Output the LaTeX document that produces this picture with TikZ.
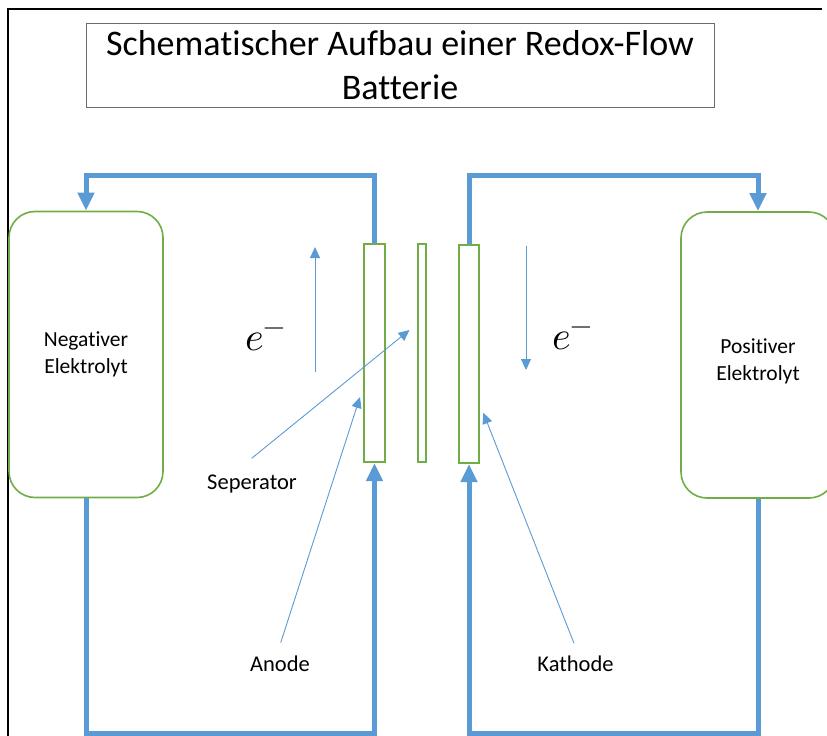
\documentclass[tikz,border=0pt]{standalone}
\usepackage{fontspec}
\setmainfont{Carlito}[Ligatures=NoCommon]
\usepackage{unicode-math}
\setmathfont{Latin Modern Math}
\usetikzlibrary{arrows.meta}
\definecolor{pipeblue}{HTML}{5B9BD5}
\definecolor{cellgreen}{HTML}{70AD47}
\definecolor{framegray}{HTML}{6B6B6B}
\begin{document}
\begin{tikzpicture}[x=1pt,y=-1pt,
  pipe/.style={draw=pipeblue, line width=5pt},
  pipetip/.style={-{Triangle[width=16pt,length=18pt]}},
  flow/.style={draw=pipeblue, line width=0.9pt, -{Triangle[width=10pt,length=11pt]}},
  tank/.style={draw=cellgreen, line width=1.6pt, rounded corners=26pt,
    minimum width=154pt, minimum height=286pt, align=center,
    font=\fontsize{21.5}{27}\selectfont, inner sep=0pt},
  plate/.style={draw=cellgreen, line width=2pt, inner sep=0pt},
  lbl/.style={font=\fontsize{22.5}{26}\selectfont, inner sep=0pt, anchor=base},
  elec/.style={anchor=base west, inner sep=0pt, font=\fontsize{40}{44}\selectfont},
]
\useasboundingbox (0,0) rectangle (827,736);
\clip (0,0) rectangle (827,736);

% outer frame
\draw[line width=2.5pt] (8,740) -- (8,9) -- (822,9);

% title
\node[draw=framegray, line width=1pt, minimum width=628pt, minimum height=84pt,
  align=center, inner sep=0pt, font=\fontsize{36}{44}\selectfont]
  (title) at (400,65) {Schematischer Aufbau einer Redox-Flow\\Batterie};

% electrolyte tanks
\node[tank] (negtank) at (86,354.5) {Negativer\\Elektrolyt};
\node[tank] (postank) at (758,355) {\rule{0pt}{27pt}Positiver\\Elektrolyt};

% cell plates
\node[plate, minimum width=21pt, minimum height=218pt] (anode) at (374.5,353) {};
\node[plate, minimum width=8pt, minimum height=218pt] (sep) at (422,353) {};
\node[plate, minimum width=20pt, minimum height=218pt] (kathode) at (469,354) {};

% electrolyte circuits
\coordinate (toprail) at (0,175);
\coordinate (botrail) at (0,733);
\draw[pipe,pipetip] (anode.north) -- (anode.north |- toprail) -| (negtank.north);
\draw[pipe,pipetip] (kathode.north) -- (kathode.north |- toprail) -| (postank.north);
\draw[pipe,pipetip] (negtank.south) -- (negtank.south |- botrail) -| (anode.south);
\draw[pipe,pipetip] (postank.south) -- (postank.south |- botrail) -| (kathode.south);

% electron flow
\coordinate (lflowA) at (315,372);
\coordinate (lflowB) at (315,247);
\coordinate (rflowA) at (526,246);
\coordinate (rflowB) at (526,370);
\draw[flow] (lflowA) -- (lflowB);
\draw[flow] (rflowA) -- (rflowB);
\node[elec] (eleft) at (245,350) {$e^-$};
\node[elec] (eright) at (552,349) {$e^-$};

% part labels with leaders
\node[lbl] (seplbl) at (252,489) {Seperator};
\node[lbl] (anodelbl) at (280,671) {Anode};
\node[lbl] (kathlbl) at (575.5,671) {Kathode};
\coordinate (sepfrom) at (251.7,458.3);
\coordinate (septo) at (409.5,330);
\coordinate (anodefrom) at (280.7,642.7);
\coordinate (anodeto) at (360,397);
\coordinate (kathfrom) at (574,643.3);
\coordinate (kathto) at (483.3,412.7);
\draw[flow] (sepfrom) -- (septo);
\draw[flow] (anodefrom) -- (anodeto);
\draw[flow] (kathfrom) -- (kathto);
\end{tikzpicture}
\end{document}
